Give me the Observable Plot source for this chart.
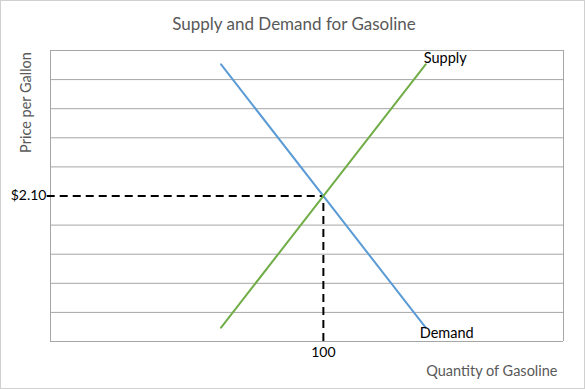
<!DOCTYPE html>
<html>
<head>
<meta charset="utf-8">
<script src="https://cdn.jsdelivr.net/npm/d3@7"></script>
<script src="https://cdn.jsdelivr.net/npm/@observablehq/plot@0.6"></script>
<style>
  html, body { margin: 0; padding: 0; background: #fff; }
  #chart svg { display: block; outline: 1px solid #d0d0d0; outline-offset: -1px; }
</style>
</head>
<body>
<div id="chart"></div>
<script>
const title = "Supply and Demand for Gasoline";
const xTitle = "Quantity of Gasoline";
const yTitle = "Price per Gallon";
const quantities = [62.5, 137.5];
const supplyPrices = [0.2, 4.0];
const demandPrices = [4.0, 0.2];
const eqQuantity = 100;
const eqPrice = 2.1;
const eqPriceLabel = "$2.10";
const eqQuantityLabel = "100";
const gridPrices = [0, 0.42, 0.84, 1.26, 1.68, 2.1, 2.52, 2.94, 3.36, 3.78, 4.2];
const seriesNames = ["Supply", "Demand"];

const supply = quantities.map((q, i) => ({q, p: supplyPrices[i]}));
const demand = quantities.map((q, i) => ({q, p: demandPrices[i]}));

const gray = "#595959";
const font = "Lato, 'Open Sans', sans-serif";

const chart = Plot.plot({
  width: 585,
  height: 389,
  marginLeft: 50,
  marginRight: 22,
  marginTop: 50,
  marginBottom: 48,
  style: {fontFamily: font, background: "#fff", overflow: "visible"},
  x: {domain: [0, 188]},
  y: {domain: [0, 4.2]},
  marks: [
    Plot.ruleY(gridPrices.filter(d => d !== eqPrice), {stroke: "#a6a6a6", strokeWidth: 1, strokeOpacity: 1}),
    Plot.ruleX([0, 188], {stroke: "#a6a6a6", strokeWidth: 1}),
    Plot.axisX([eqQuantity], {tickSize: 0, tickPadding: 6, tickFormat: () => eqQuantityLabel, fontSize: 14, fill: "#000", label: null}),
    Plot.axisY([eqPrice], {tickSize: 0, tickPadding: 4, tickFormat: () => eqPriceLabel, fontSize: 14, fill: "#000", label: null}),
    Plot.ruleY([eqPrice], {x1: -1.2, x2: eqQuantity, stroke: "#000", strokeWidth: 2, strokeDasharray: "8,5"}),
    Plot.ruleX([eqQuantity], {y1: 0, y2: eqPrice, stroke: "#000", strokeWidth: 2, strokeDasharray: "8,5"}),
    Plot.line(demand, {x: "q", y: "p", stroke: "#5b9bd5", strokeWidth: 2}),
    Plot.line(supply, {x: "q", y: "p", stroke: "#70ad47", strokeWidth: 2}),
    Plot.text([supply[1]], {x: "q", y: "p", text: () => seriesNames[0], textAnchor: "start", dx: -2, dy: -6, fontSize: 14.5, fill: "#000"}),
    Plot.text([demand[1]], {x: "q", y: "p", text: () => seriesNames[1], textAnchor: "start", dx: -6, dy: 6, fontSize: 14.5, fill: "#000"}),
    Plot.text([title], {frameAnchor: "top", textAnchor: "middle", lineAnchor: "middle", dx: -13, dy: -26, fontSize: 17, fill: gray}),
    Plot.text([yTitle], {frameAnchor: "top-left", textAnchor: "middle", lineAnchor: "middle", dx: -24, dy: 52, rotate: -90, fontSize: 14.5, fill: gray}),
    Plot.text([xTitle], {frameAnchor: "bottom-right", textAnchor: "end", lineAnchor: "middle", dx: -6, dy: 30, fontSize: 14.5, fill: gray})
  ]
});
document.getElementById("chart").appendChild(chart);
</script>
</body>
</html>
